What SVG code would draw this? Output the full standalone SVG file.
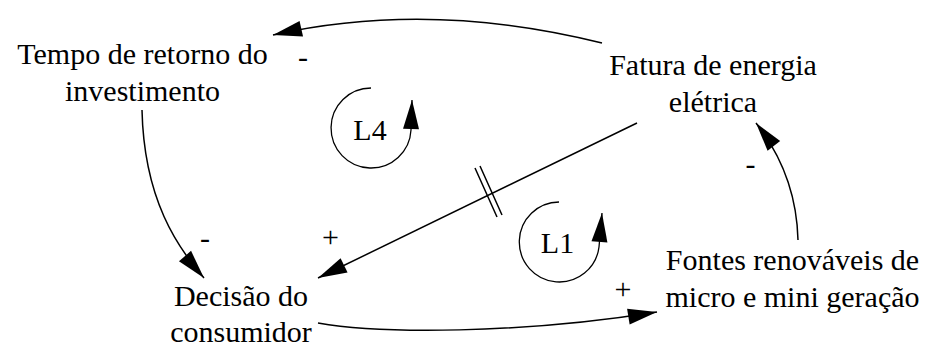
<svg xmlns="http://www.w3.org/2000/svg" width="926" height="347" viewBox="0 0 926 347">
<style>
text{font-size:30px;fill:#000;text-anchor:middle}
.c{fill:none;stroke:#000;stroke-width:1.5}
.l{fill:none;stroke:#000;stroke-width:1.3}
</style>
<defs>
<marker id="ah" markerUnits="userSpaceOnUse" markerWidth="32" markerHeight="20" viewBox="-30 -10 32 20" refX="0" refY="0" orient="auto">
<path d="M0,0 L-29,-8 L-29,8 Z" fill="#000"/>
</marker>
</defs>
<rect width="926" height="347" fill="#fff"/>
<g font-family="Liberation Serif, Tinos, Times New Roman, DejaVu Serif, serif">
<g id="tempo"><text x="142.5" y="64">Tempo de retorno do</text><text x="142.5" y="101">investimento</text></g>
<g id="fatura"><text x="713" y="75">Fatura de energia</text><text x="713" y="112">elétrica</text></g>
<g id="decisao"><text x="241" y="306">Decisão do</text><text x="241" y="342">consumidor</text></g>
<g id="fontes"><text x="792.5" y="270">Fontes renováveis de</text><text x="792.5" y="307">micro e mini geração</text></g>
<g id="loopL4"><path class="l" d="M371,88 A40,40 0 1 0 411,130 L412,100" marker-end="url(#ah)"/><text x="370" y="140">L4</text></g>
<g id="loopL1"><path class="l" d="M559,202 A40,40 0 1 0 599,247 L602,213" marker-end="url(#ah)"/><text x="557.5" y="253">L1</text></g>
<g id="connectors">
<path class="c" d="M602,43 Q430,0 273,35" marker-end="url(#ah)"/>
<path class="c" d="M142,110 C144,200 178,248 204,278" marker-end="url(#ah)"/>
<path class="c" d="M637,123 L318,278" marker-end="url(#ah)"/>
<path class="c" d="M475,168 L497,217 M480,166 L502,215"/>
<path class="c" d="M318,323 C380,334 520,334 657,312" marker-end="url(#ah)"/>
<path class="c" d="M798,240 C797,200 785,160 756,123" marker-end="url(#ah)"/>
</g>
<g id="labels">
<text x="303" y="67">-</text>
<text x="205" y="248">-</text>
<text x="750.5" y="174">-</text>
<text x="330.5" y="246.5">+</text>
<text x="623" y="299">+</text>
</g>
</g>
</svg>
